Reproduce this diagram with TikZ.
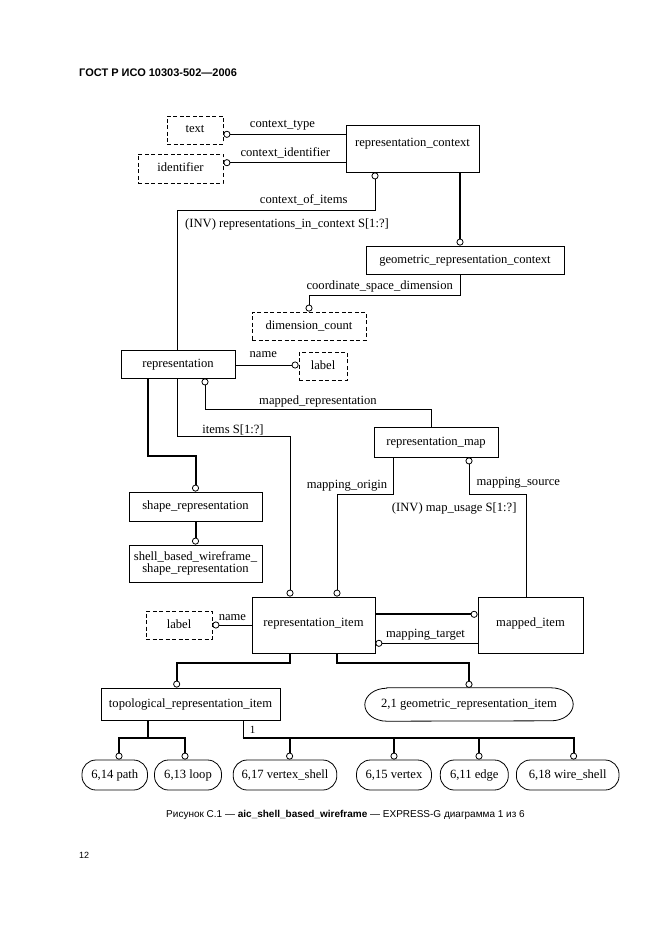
\documentclass[tikz,border=0pt]{standalone}
\usepackage{fontspec}
\setmainfont{Liberation Serif}
\newfontfamily\sansfont{Liberation Sans}
\usetikzlibrary{arrows.meta}

\tikzset{
  ent/.style={draw, line width=0.8pt, inner sep=0pt, text height=8.5pt, text depth=2.5pt},
  typ/.style={ent, dash pattern=on 4pt off 2.5pt},
  pref/.style={ent, rounded corners=14pt},
  lbl/.style={inner sep=0pt, text height=8.5pt, text depth=2.5pt},
  attr/.style={line width=0.8pt, -{Circle[open, length=7pt, width=7pt, line width=0.8pt 0 1]}},
  sub/.style={line width=2pt, -{Circle[open, length=7pt, width=7pt, line width=0.8pt 0 1]}},
}

\begin{document}
\begin{tikzpicture}[x=1pt,y=-1pt,font=\fontsize{12.6}{14}\selectfont]
	\useasboundingbox (0,0) rectangle (661,936);
	\node[anchor=base west, inner sep=0pt, font=\sansfont\bfseries\fontsize{11}{13}\selectfont] (hdr) at (79,77) {ГОСТ Р ИСО 10303-502—2006};

	% entities and types
	\node[typ, minimum width=56pt, minimum height=28pt] (txt) at (195,130) {text};
	\node[typ, minimum width=85pt, minimum height=29pt] (ident) at (180.5,168.5) {identifier};
	\node[ent, minimum width=133pt, minimum height=47pt, text depth=11.5pt] (repctx) at (412.5,148.5) {representation\_context};
	\node[ent, minimum width=198pt, minimum height=28pt] (geoctx) at (465,260) {geometric\_representation\_context};
	\node[typ, minimum width=114pt, minimum height=28pt] (dimcnt) at (309,326) {dimension\_count};
	\node[ent, minimum width=114pt, minimum height=28pt] (rep) at (178,364) {representation};
	\node[typ, minimum width=48pt, minimum height=28pt] (replbl) at (323,366) {label};
	\node[ent, minimum width=133pt, minimum height=29pt] (shaperep) at (195.5,506.5) {shape\_representation};
	\node[ent, minimum width=133pt, minimum height=37pt, align=center, text height=, text depth=, font=\fontsize{12.6}{12.7}\selectfont] (sbwf) at (195.5,563.5) {shell\_based\_wireframe\_\\shape\_representation};
	\node[ent, minimum width=124pt, minimum height=30pt] (repmap) at (436,442) {representation\_map};
	\node[ent, minimum width=123pt, minimum height=56pt, text depth=6pt] (repitem) at (313.5,625) {representation\_item};
	\node[ent, minimum width=105pt, minimum height=56pt, text depth=6pt] (mapitem) at (530.5,625) {mapped\_item};
	\node[typ, minimum width=66pt, minimum height=28pt] (itemlbl) at (179,625) {label};
	\node[ent, minimum width=179pt, minimum height=32pt] (topo) at (190.5,704) {topological\_representation\_item};
	\node[lbl, minimum width=208pt, minimum height=33pt] (geoitem) at (469,704.5) {2,1 geometric\_representation\_item};
	\draw[line width=0.8pt] ([xshift=22pt]geoitem.north west) -- ([xshift=-22pt]geoitem.north east)
		arc[start angle=90, end angle=-90, x radius=22pt, y radius=16.5pt]
		-- ([xshift=22pt]geoitem.south west)
		arc[start angle=270, end angle=90, x radius=22pt, y radius=16.5pt] -- cycle;

	% page references
	\node[pref, minimum width=65.5pt, minimum height=30pt] (tpath) at (114.75,775) {6,14 path};
	\node[pref, minimum width=67pt, minimum height=30pt] (tloop) at (188,775) {6,13 loop};
	\node[pref, minimum width=103.6pt, minimum height=30pt] (tvshell) at (285,775) {6,17 vertex\_shell};
	\node[pref, minimum width=75pt, minimum height=30pt] (tvertex) at (394,775) {6,15 vertex};
	\node[pref, minimum width=68pt, minimum height=30pt] (tedge) at (474.3,775) {6,11 edge};
	\node[pref, minimum width=102.6pt, minimum height=30pt] (twshell) at (567.7,775) {6,18 wire\_shell};

	% attributes
	\draw[attr] (repctx.west |- 0,134.3) -- (txt.east |- 0,134.3);
	\node[lbl] (ctype) at (282.5,125) {context\_type};
	\draw[attr] (repctx.west |- 0,162.7) -- (ident.east |- 0,162.7);
	\node[lbl] (cident) at (285.3,154) {context\_identifier};
	\draw[attr] (rep.north -| 177,0) |- (375,210) -- (repctx.south -| 375,0);
	\node[lbl] (citems) at (303.7,200) {context\_of\_items};
	\node[lbl] (rinctx) at (287,224) {(INV) representations\_in\_context S[1:?]};
	\draw[sub] (repctx.south -| 460,0) -- (geoctx.north -| 460,0);
	\draw[attr] (geoctx.south -| 460,0) |- (dimcnt.north |- 0,295) -- (dimcnt.north);
	\node[lbl] (csdim) at (379.7,286.7) {coordinate\_space\_dimension};
	\draw[attr] (rep.east |- 0,365) -- (replbl.west |- 0,365);
	\node[lbl] (rname) at (263.3,354.3) {name};
	\draw[attr] (repmap.north -| 431.7,0) |- (205,409) -- (rep.south -| 205,0);
	\node[lbl] (mrep) at (318,401) {mapped\_representation};
	\draw[attr] (rep.south -| 177,0) |- (290,436.7) -- (repitem.north -| 290,0);
	\node[lbl] (items) at (233,430.7) {items S[1:?]};
	\draw[sub] (rep.south -| 147.7,0) |- (shaperep.north |- 0,456) -- (shaperep.north);
	\draw[sub] (shaperep.south) -- (sbwf.north);
	\draw[attr] (repmap.south -| 393.3,0) |- (337,494) -- (repitem.north -| 337,0);
	\node[lbl] (morig) at (347,485.7) {mapping\_origin};
	\draw[attr] (mapitem.north -| 526,0) |- (469,494) -- (repmap.south -| 469,0);
	\node[lbl] (msrc) at (518.3,482.7) {mapping\_source};
	\node[lbl] (musage) at (454.2,508.3) {(INV) map\_usage S[1:?]};
	\draw[sub] (repitem.east |- 0,614.3) -- (mapitem.west |- 0,614.3);
	\draw[attr] (mapitem.west |- 0,643.3) -- (repitem.east |- 0,643.3);
	\node[lbl] (mtarget) at (425.5,634.3) {mapping\_target};
	\draw[attr] (repitem.west |- 0,625) -- (itemlbl.east);
	\node[lbl] (iname) at (232.4,617.7) {name};

	% subtypes
	\draw[sub] (repitem.south -| 290.4,0) |- (176.7,662.7) -- (topo.north -| 176.7,0);
	\draw[sub] (repitem.south -| 336.8,0) |- (geoitem.north |- 0,662.7) -- (geoitem.north);
	\coordinate (ta) at (147.5,738.3);
	\draw[line width=2pt] (topo.south -| ta) -- (ta);
	\draw[sub] (ta) -| (tpath.north -| 119,0);
	\draw[sub] (ta) -| (tloop.north -| 185,0);
	\coordinate (tb) at (242.9,738.3);
	\draw[line width=0.8pt] (topo.south -| tb) -- (tb);
	\draw[sub] (tb) -| (tvshell.north -| 289.6,0);
	\draw[sub] (tb) -| (tvertex.north -| 394,0);
	\draw[sub] (tb) -| (tedge.north -| 479,0);
	\draw[sub] (tb) -| (twshell.north -| 573.6,0);
	\node[lbl, font=\fontsize{11}{13}\selectfont] (one) at (252.7,730) {1};

	\node[anchor=base, inner sep=0pt, font=\sansfont\fontsize{10}{12}\selectfont] (cap) at (345.5,817) {Рисунок С.1 — \textbf{aic\_shell\_based\_wireframe} — EXPRESS-G диаграмма 1 из 6};
	\node[anchor=base west, inner sep=0pt, font=\sansfont\fontsize{9}{11}\selectfont] (pg) at (79,858.3) {12};
\end{tikzpicture}
\end{document}
